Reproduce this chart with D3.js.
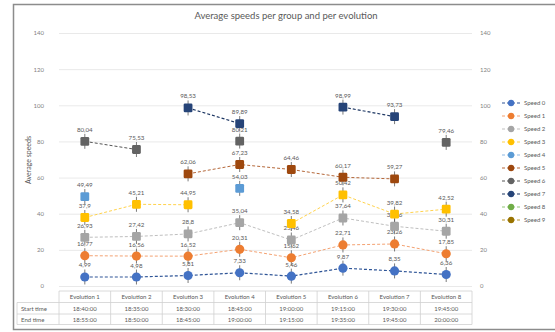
<!DOCTYPE html>
<html>
<head>
<meta charset="utf-8">
<script src="https://cdn.jsdelivr.net/npm/d3@7"></script>
<style>
  html, body { margin: 0; padding: 0; background: #ffffff; }
  svg { display: block; font-family: Lato, "Open Sans", sans-serif; }
</style>
</head>
<body>
<svg id="chart" width="555" height="332"></svg>
<script>
// Evolutions shown along the x axis / data table
const categories = ["Evolution 1", "Evolution 2", "Evolution 3", "Evolution 4",
                    "Evolution 5", "Evolution 6", "Evolution 7", "Evolution 8"];

// Average speed per group (null = no measurement for that evolution)
const speed0 = [4.99, 4.98, 5.81, 7.33, 5.46, 9.87, 8.35, 6.36];
const speed1 = [16.77, 16.56, 16.52, 20.31, 15.62, 22.71, 23.26, 17.85];
const speed2 = [26.93, 27.42, 28.8, 35.04, 25.46, 37.64, 33.06, 30.31];
const speed3 = [37.9, 45.21, 44.95, null, 34.58, 50.42, 39.82, 42.52];
const speed4 = [49.49, null, null, 54.03, null, null, null, null];
const speed5 = [null, null, 62.06, 67.23, 64.46, 60.17, 59.27, null];
const speed6 = [80.04, 75.53, null, 80.21, null, null, null, 79.46];
const speed7 = [null, null, 98.53, 89.89, null, 98.99, 93.73, null];
const speed8 = [null, null, null, null, null, null, null, null];
const speed9 = [null, null, null, null, null, null, null, null];

const seriesNames = ["Speed 0", "Speed 1", "Speed 2", "Speed 3", "Speed 4",
                     "Speed 5", "Speed 6", "Speed 7", "Speed 8", "Speed 9"];
const seriesValues = [speed0, speed1, speed2, speed3, speed4,
                      speed5, speed6, speed7, speed8, speed9];

// Data table rows under the plot
const startTimes = ["18:40:00", "18:35:00", "18:30:00", "18:45:00",
                    "19:00:00", "19:15:00", "19:30:00", "19:45:00"];
const endTimes   = ["18:55:00", "18:50:00", "18:45:00", "19:00:00",
                    "19:15:00", "19:35:00", "19:45:00", "20:00:00"];
const yTicks = [0, 20, 40, 60, 80, 100, 120, 140];

// Styling per series
const colors = ["#4472C4", "#ED7D31", "#A5A5A5", "#FFC000", "#5B9BD5",
                "#9E480E", "#636363", "#264478", "#70AD47", "#997300"];
const lineColors = ["#2F5597", "#F4A272", "#BFBFBF", "#FFD34D", "#8FB9E3",
                    "#B5683A", "#555555", "#1F3864", "#94C57A", "#B8962E"];
const shapes = ["circle", "circle", "square", "square", "square",
                "square", "square", "square", "circle", "circle"];

const svg = d3.select("#chart");
const plotLeft = 59, plotRight = 472, plotTop = 33, plotBottom = 286;

// Chart frame
svg.append("rect")
  .attr("x", 13.5).attr("y", 4.5)
  .attr("width", 560).attr("height", 325)
  .attr("fill", "#ffffff")
  .attr("stroke", "#8c8c8c").attr("stroke-width", 1.5);

const x = d3.scaleBand().domain(categories).range([plotLeft, plotRight]);
const y = d3.scaleLinear().domain([0, 140]).range([plotBottom, plotTop]);

// Title
svg.append("text")
  .attr("x", 286).attr("y", 19)
  .attr("text-anchor", "middle")
  .attr("font-size", 9.5).attr("fill", "#595959")
  .text("Average speeds per group and per evolution");

// Gridlines
svg.append("g")
  .attr("transform", `translate(${plotLeft},0)`)
  .call(d3.axisLeft(y).tickValues(yTicks).tickSize(-(plotRight - plotLeft)).tickFormat(""))
  .call(g => g.select(".domain").remove())
  .call(g => g.selectAll("line").attr("stroke", "#e3e3e3").attr("stroke-width", 0.8));

// Left and right value axes
svg.append("g")
  .attr("transform", `translate(${plotLeft},0)`)
  .call(d3.axisLeft(y).tickValues(yTicks).tickSize(0).tickPadding(15))
  .call(g => g.select(".domain").remove())
  .call(g => g.selectAll("text").attr("font-size", 6).attr("fill", "#7f7f7f")
              .attr("font-family", "Lato, sans-serif"));
svg.append("g")
  .attr("transform", `translate(${plotRight},0)`)
  .call(d3.axisRight(y).tickValues(yTicks).tickSize(0).tickPadding(8))
  .call(g => g.select(".domain").remove())
  .call(g => g.selectAll("text").attr("font-size", 6).attr("fill", "#7f7f7f")
              .attr("font-family", "Lato, sans-serif"));

// Axis title
svg.append("text")
  .attr("transform", "translate(31,160) rotate(-90)")
  .attr("text-anchor", "middle")
  .attr("font-size", 7).attr("fill", "#595959")
  .text("Average speeds");

const cx = c => x(c) + x.bandwidth() / 2;
const fmt = v => String(+v.toFixed(2)).replace(".", ",");

const series = seriesNames.map((name, i) => ({
  name, i,
  points: categories.map((c, j) => ({ c, v: seriesValues[i][j] }))
}));

const line = d3.line()
  .defined(d => d.v !== null)
  .x(d => cx(d.c)).y(d => y(d.v));

// Dashed connecting lines
svg.append("g").selectAll("path")
  .data(series)
  .join("path")
  .attr("d", s => line(s.points))
  .attr("fill", "none")
  .attr("stroke", s => lineColors[s.i])
  .attr("stroke-width", s => s.i === 0 || s.i === 7 ? 1.2 : 1)
  .attr("stroke-dasharray", "3,2");

// Markers with small whiskers
const marks = svg.append("g").selectAll("g")
  .data(series.flatMap(s => s.points.filter(p => p.v !== null).map(p => ({ ...p, i: s.i }))))
  .join("g")
  .attr("transform", d => `translate(${cx(d.c)},${y(d.v)})`);

marks.append("line")
  .attr("y1", -7.5).attr("y2", 7.5)
  .attr("stroke", "#595959").attr("stroke-width", 0.8);

marks.each(function(d) {
  const g = d3.select(this);
  if (shapes[d.i] === "circle") {
    g.append("circle").attr("r", 4.6).attr("fill", colors[d.i]);
  } else {
    g.append("rect").attr("x", -4.4).attr("y", -4.4).attr("width", 8.8).attr("height", 8.8)
      .attr("rx", 1.3).attr("fill", colors[d.i]);
  }
});

// Value labels above the markers
marks.append("text")
  .attr("y", -9.5)
  .attr("text-anchor", "middle")
  .attr("font-size", 6.2).attr("fill", "#595959")
  .text(d => fmt(d.v));

// Legend
const legend = svg.append("g").selectAll("g")
  .data(series)
  .join("g")
  .attr("transform", (s, k) => `translate(502,${103 + k * 13})`);
legend.append("line")
  .attr("x1", 0).attr("x2", 18)
  .attr("stroke", s => lineColors[s.i]).attr("stroke-width", 1.2)
  .attr("stroke-dasharray", "3,2");
legend.append("circle")
  .attr("cx", 9).attr("r", 3.2)
  .attr("fill", s => colors[s.i]);
legend.append("text")
  .attr("x", 22).attr("y", 2)
  .attr("font-size", 6).attr("fill", "#595959")
  .text(s => s.name);

// Data table
const table = svg.append("g");
const rowTop = 291, rowH = [11.5, 11.5, 10.5];
const rowY = [rowTop, rowTop + rowH[0], rowTop + rowH[0] + rowH[1],
              rowTop + rowH[0] + rowH[1] + rowH[2]];
const gridStroke = "#d0d0d0";

table.append("line").attr("x1", plotLeft).attr("x2", plotRight)
  .attr("y1", rowY[0]).attr("y2", rowY[0]).attr("stroke", gridStroke).attr("stroke-width", 0.8);
[1, 2, 3].forEach(r => {
  table.append("line").attr("x1", 17).attr("x2", plotRight)
    .attr("y1", rowY[r]).attr("y2", rowY[r]).attr("stroke", gridStroke).attr("stroke-width", 0.8);
});
table.append("line").attr("x1", 17).attr("x2", 17)
  .attr("y1", rowY[1]).attr("y2", rowY[3]).attr("stroke", gridStroke).attr("stroke-width", 0.8);
categories.forEach(c => {
  table.append("line").attr("x1", x(c)).attr("x2", x(c))
    .attr("y1", rowY[0]).attr("y2", rowY[3]).attr("stroke", gridStroke).attr("stroke-width", 0.8);
});
table.append("line").attr("x1", plotRight).attr("x2", plotRight)
  .attr("y1", rowY[0]).attr("y2", rowY[3]).attr("stroke", gridStroke).attr("stroke-width", 0.8);

const cellText = (tx, ty, s, anchor) => table.append("text")
  .attr("x", tx).attr("y", ty)
  .attr("text-anchor", anchor || "middle")
  .attr("font-size", 6).attr("fill", "#595959")
  .text(s);

categories.forEach((c, j) => {
  cellText(cx(c), rowY[0] + 8, c);
  cellText(cx(c), rowY[1] + 8, startTimes[j]);
  cellText(cx(c), rowY[2] + 8, endTimes[j]);
});
cellText(21, rowY[1] + 8, "Start time", "start");
cellText(21, rowY[2] + 8, "End time", "start");
</script>
</body>
</html>
